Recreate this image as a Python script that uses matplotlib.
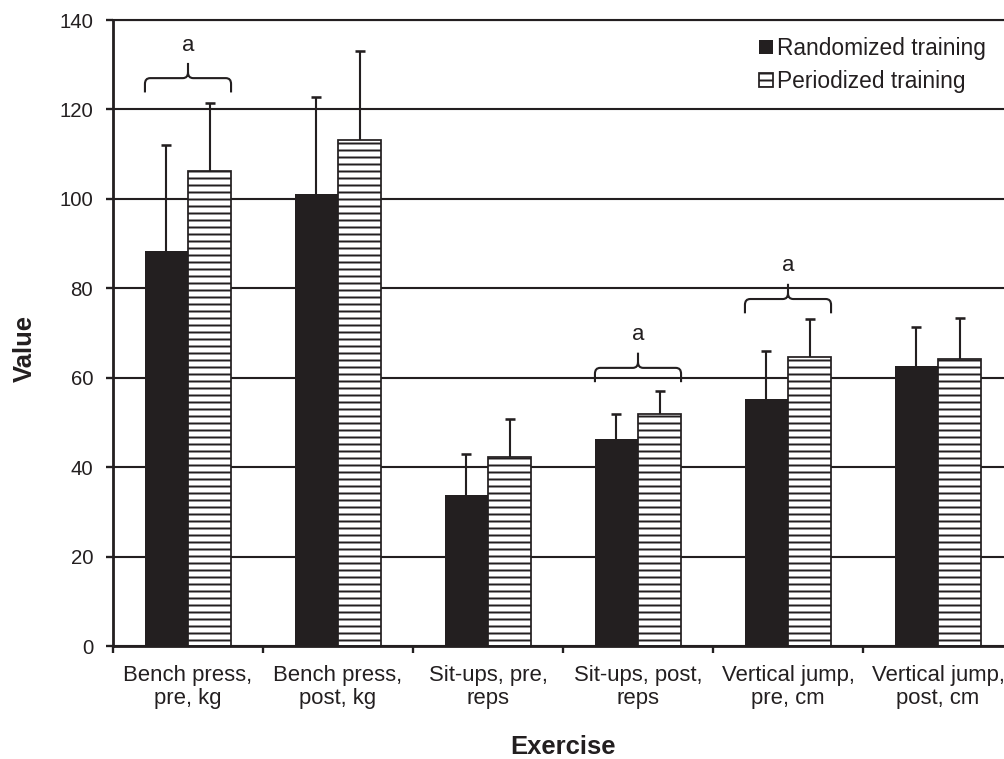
import matplotlib
matplotlib.use("Agg")
import matplotlib.pyplot as plt
import numpy as np
from matplotlib.path import Path
from matplotlib.patches import PathPatch

plt.rcParams['font.family'] = ['Liberation Sans', 'DejaVu Sans']
plt.rcParams['hatch.linewidth'] = 1.7
plt.rcParams['hatch.color'] = '#231f20'

INK = '#231f20'

# exercises and group means / SDs
exercises = ["Bench press,\npre, kg", "Bench press,\npost, kg",
             "Sit-ups, pre,\nreps", "Sit-ups, post,\nreps",
             "Vertical jump,\npre, cm", "Vertical jump,\npost, cm"]
randomized_mean = [88.4, 101.1, 33.8, 46.3, 55.2, 62.6]
randomized_sd = [23.7, 21.7, 9.1, 5.6, 10.8, 8.8]
periodized_mean = [106.3, 113.2, 42.3, 51.9, 64.6, 64.2]
periodized_sd = [15.2, 19.9, 8.5, 5.1, 8.5, 9.2]

# significance braces: exercise index, brace height
brace_idx = [0, 3, 4]
brace_y = [127.0, 62.2, 77.6]

DPI = 84
fig = plt.figure(figsize=(1004 / DPI, 759 / DPI), dpi=DPI)
ax = fig.add_axes([113 / 1004, 113 / 759, 900 / 1004, 626 / 759])

x = np.arange(len(exercises))
w = 0.287

ax.bar(x - w / 2, randomized_mean, w, color=INK, edgecolor=INK, linewidth=0,
       label="Randomized training", zorder=2)
ax.bar(x + w / 2, periodized_mean, w, color='white', edgecolor=INK, linewidth=1.5,
       hatch='--', label="Periodized training", zorder=2)

# symmetric bars drawn behind the columns so only the upper half shows
ax.errorbar(x - w / 2, randomized_mean, yerr=randomized_sd, fmt='none',
            ecolor=INK, elinewidth=1.8, capsize=4.3, capthick=2.2, zorder=1.5)
ax.errorbar(x + w / 2, periodized_mean, yerr=periodized_sd, fmt='none',
            ecolor=INK, elinewidth=1.8, capsize=4.3, capthick=2.2, zorder=1.5)


def brace(ax, x0, x1, y, drop=3.2, tip=3.4, rx=0.035, ry=1.3):
    xm = (x0 + x1) / 2
    verts = [(x0, y - drop), (x0, y - ry), (x0, y), (x0 + rx, y),
             (xm - rx, y), (xm, y), (xm, y + ry), (xm, y + tip),
             (xm, y + ry), (xm, y), (xm + rx, y), (x1 - rx, y),
             (x1, y), (x1, y - ry), (x1, y - drop)]
    codes = [Path.MOVETO, Path.LINETO, Path.CURVE3, Path.CURVE3,
             Path.LINETO, Path.CURVE3, Path.CURVE3, Path.LINETO,
             Path.MOVETO, Path.CURVE3, Path.CURVE3, Path.LINETO,
             Path.CURVE3, Path.CURVE3, Path.LINETO]
    ax.add_patch(PathPatch(Path(verts, codes), fill=False, edgecolor=INK,
                           linewidth=1.8, zorder=3))
    ax.text(xm, y + tip + 4.0, "a", ha='center', va='center', fontsize=19, color=INK)


for i, yb in zip(brace_idx, brace_y):
    brace(ax, x[i] - w, x[i] + w, yb)

ax.set_xlim(-0.5, len(exercises) - 0.5)
ax.set_ylim(0, 140)
ax.set_yticks(np.arange(0, 141, 20))
ax.set_xticks(x)
ax.set_xticklabels(exercises, fontsize=19, color=INK, linespacing=1.15)
ax.set_xticks(np.arange(-0.5, len(exercises), 1.0), minor=True)
ax.tick_params(axis='x', which='major', length=0, pad=16)
ax.tick_params(axis='x', which='minor', length=6, width=2, color=INK)
ax.tick_params(axis='y', length=6, width=2, color=INK, pad=11, labelsize=17.5,
               labelcolor=INK)

ax.yaxis.grid(True, color=INK, linewidth=1.8)
ax.set_axisbelow(True)
for side in ['left', 'bottom', 'top']:
    ax.spines[side].set_linewidth(2.4)
    ax.spines[side].set_color(INK)
ax.spines['top'].set_linewidth(1.8)
ax.spines['right'].set_visible(False)

fig.text(25 / 1004, 1 - 348 / 759, "Value", rotation=90, ha='center', va='center',
         fontsize=22, fontweight='bold', color=INK)
fig.text(563 / 1004, 1 - 754 / 759, "Exercise", ha='center', va='baseline',
         fontsize=22, fontweight='bold', color=INK)

ax.legend(loc='upper left', bbox_to_anchor=(759 / 1004, 1 - 37 / 759),
          bbox_transform=fig.transFigure, frameon=False, fontsize=19.5,
          handlelength=0.6, handleheight=0.6, handletextpad=0.2,
          labelspacing=0.45, borderpad=0, borderaxespad=0, labelcolor=INK)

fig.savefig("out.png", dpi=DPI)
